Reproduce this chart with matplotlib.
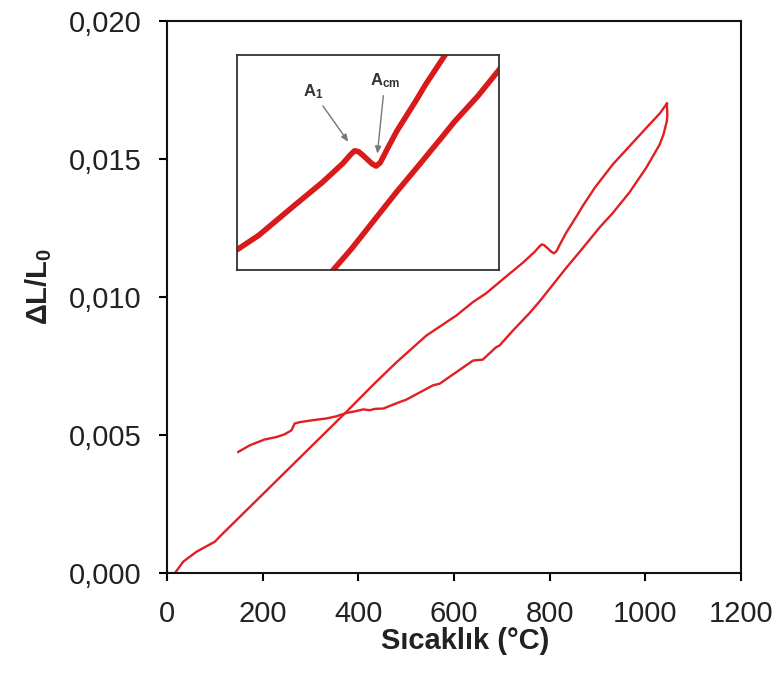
import numpy as np
import matplotlib
matplotlib.use("Agg")
import matplotlib.pyplot as plt
from matplotlib.ticker import FuncFormatter

plt.rcParams["font.family"] = ["Liberation Sans", "DejaVu Sans"]
plt.rcParams["mathtext.fontset"] = "custom"
plt.rcParams["mathtext.rm"] = "Liberation Sans"
plt.rcParams["mathtext.bf"] = "Liberation Sans:bold"
plt.rcParams["mathtext.it"] = "Liberation Sans:italic"

# Dilatometer curve: heating branch (°C, dL/L0)
heat_T = [16, 34, 62, 100, 110, 375, 431, 480, 542, 605, 640, 667, 709,
          744, 769, 778, 783, 788, 794, 804, 809, 814, 822, 834, 858, 869,
          895, 932, 967, 1002, 1030, 1045]
heat_dL = [0.0, 0.00043, 0.00079, 0.00115, 0.00133, 0.00585, 0.00683,
           0.00765, 0.00861, 0.00934, 0.00983, 0.01014, 0.01075,
           0.01125, 0.01165, 0.01183, 0.01191, 0.01189, 0.01180, 0.01164, 0.01159,
           0.01166, 0.01193, 0.01232, 0.01298, 0.01330,
           0.01398, 0.01481, 0.01547, 0.01613, 0.01665, 0.01701]

# Cooling branch
cool_T = [1045, 1046, 1045, 1038, 1030, 1002, 967, 932, 904, 890, 862, 834,
          779, 757, 723, 695, 688, 660, 640, 605, 570, 556, 500, 487, 452,
          435, 424, 410, 396, 375, 354, 333, 305, 278, 267, 260, 246, 229,
          204, 173, 149]
cool_dL = [0.01701, 0.01660, 0.01638, 0.01590, 0.01553, 0.01469, 0.01380,
           0.01305, 0.01252, 0.01222, 0.01163, 0.01105,
           0.00985, 0.00941, 0.00879, 0.00825, 0.00819, 0.00774, 0.00771,
           0.00729, 0.00687, 0.00681, 0.00629, 0.00621, 0.00597,
           0.00596, 0.00591, 0.00594, 0.00588, 0.00581, 0.00569, 0.00561,
           0.00555, 0.00548, 0.00543, 0.00518, 0.00504, 0.00494,
           0.00485, 0.00464, 0.00440]

x_ticks = [0, 200, 400, 600, 800, 1000, 1200]
y_ticks = [0.000, 0.005, 0.010, 0.015, 0.020]

RED = "#e01f22"
TXT = "#222222"

fig = plt.figure(figsize=(7.77, 6.77), dpi=100)
ax = fig.add_axes([0.2149, 0.1529, 0.7388, 0.8161])

ax.plot(heat_T, heat_dL, color=RED, lw=1.7, solid_joinstyle="round")
ax.plot(cool_T, cool_dL, color=RED, lw=1.7, solid_joinstyle="round")

ax.set_xlim(0, 1200)
ax.set_ylim(0, 0.020)
ax.set_xticks(x_ticks)
ax.set_yticks(y_ticks)
ax.yaxis.set_major_formatter(FuncFormatter(lambda v, p: f"{v:.3f}".replace(".", ",")))
ax.xaxis.set_major_formatter(FuncFormatter(lambda v, p: f"{v:.0f}"))
ax.tick_params(direction="out", length=6, width=1.5, labelsize=21,
               labelcolor=TXT)
ax.tick_params(axis="x", pad=13)
ax.tick_params(axis="y", pad=12)
for s in ax.spines.values():
    s.set_linewidth(1.5)
    s.set_color("#111111")

ax.set_xlabel("Sıcaklık (°C)", fontsize=21, fontweight="bold", color=TXT,
              va="top")
ax.xaxis.set_label_coords(0.52, -0.097)
ax.set_ylabel(r"$\mathbf{\Delta L/L_0}$", fontsize=21, color=TXT)
ax.yaxis.set_label_coords(-0.197, 0.52)

# Inset: close-up of the transformation region
ins = fig.add_axes([0.3046, 0.6012, 0.3376, 0.3176])
ins.plot(heat_T, heat_dL, color="#d81a1a", lw=4.0, solid_joinstyle="round",
         solid_capstyle="round")
ins.plot(cool_T, cool_dL, color="#d81a1a", lw=4.0, solid_joinstyle="round",
         solid_capstyle="round")
ins.set_xlim(640, 958)
ins.set_ylim(0.00941, 0.01392)
ins.set_xticks([])
ins.set_yticks([])
for s in ins.spines.values():
    s.set_linewidth(1.3)
    s.set_color("#333333")

hT = np.array(heat_T)
hD = np.array(heat_dL)
win1 = (hT > 760) & (hT < 800)
i1 = np.where(win1)[0][np.argmax(hD[win1])]
win2 = (hT > 795) & (hT < 820)
i2 = np.where(win2)[0][np.argmin(hD[win2])]

arrow = dict(arrowstyle="-|>,head_length=0.35,head_width=0.15",
             color="#777777", lw=1.0, shrinkA=2)
ins.annotate(r"$\mathbf{A_1}$", xy=(hT[i1], hD[i1]), xycoords="data",
             xytext=(0.29, 0.83), textcoords="axes fraction",
             ha="center", va="center", fontsize=12, color="#333333",
             arrowprops=dict(arrow, shrinkB=8))
ins.annotate(r"$\mathbf{A_{cm}}$", xy=(hT[i2], hD[i2]), xycoords="data",
             xytext=(0.565, 0.88), textcoords="axes fraction",
             ha="center", va="center", fontsize=12, color="#333333",
             arrowprops=dict(arrow, shrinkB=9))

fig.savefig("out.png", dpi=100)
